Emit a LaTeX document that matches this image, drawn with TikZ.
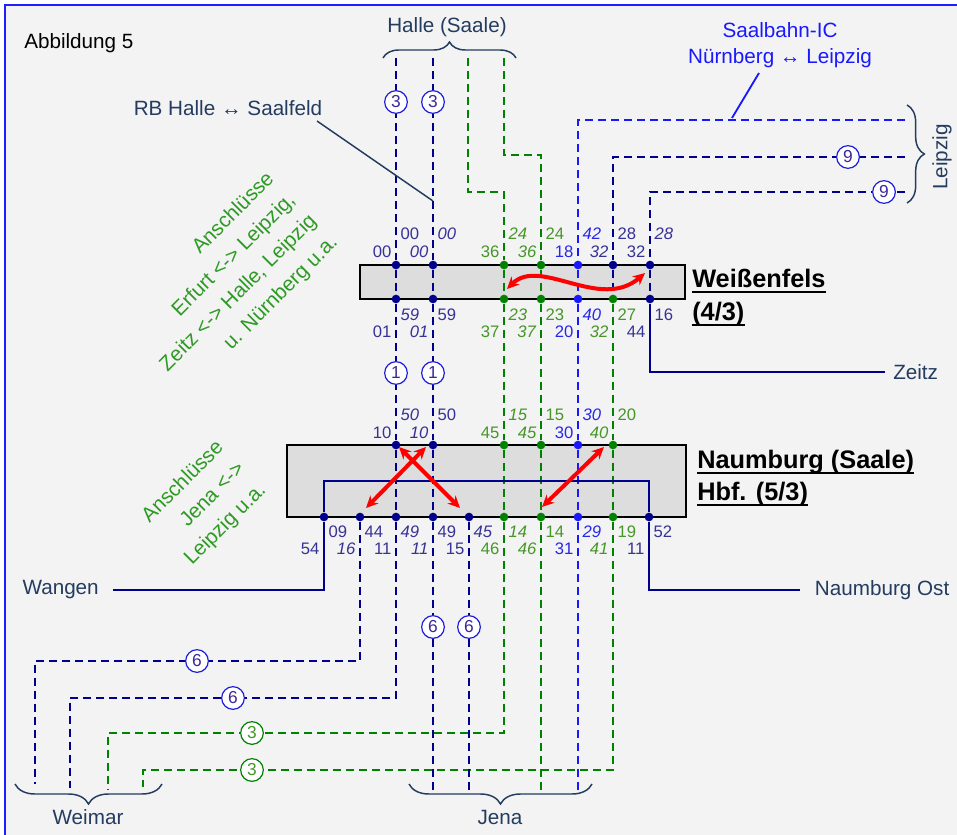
\documentclass[tikz,border=0pt]{standalone}
\usepackage{fontspec}
\setmainfont{Liberation Sans}
\usetikzlibrary{arrows.meta,positioning,calc,decorations.pathreplacing}

\definecolor{lNavy}{RGB}{0,0,140}
\definecolor{lBlue}{RGB}{25,25,255}
\definecolor{lGreen}{RGB}{0,130,0}
\definecolor{tNavy}{RGB}{55,50,150}
\definecolor{tBlue}{RGB}{40,40,235}
\definecolor{tGreen}{RGB}{70,150,40}
\definecolor{anschlussgruen}{RGB}{45,155,35}
\definecolor{ortgrau}{RGB}{35,60,95}
\definecolor{hintergrund}{RGB}{243,243,243}
\definecolor{kastengrau}{RGB}{221,221,221}
\definecolor{rahmen}{RGB}{30,30,255}
\definecolor{ringblau}{RGB}{30,30,220}
\definecolor{ringtext}{RGB}{60,40,150}

\begin{document}
\begin{tikzpicture}[x=0.75pt, y=-0.75pt,
    zug/.style={dash pattern=on 6pt off 3.75pt, line width=1.8pt},
    nzug/.style={zug, lNavy},
    bzug/.style={zug, lBlue},
    gzug/.style={zug, lGreen},
    fest/.style={line width=1.8pt, lNavy},
    dot/.style={circle, fill=#1, inner sep=0pt, minimum size=6.5pt},
    zeit/.style={inner sep=1pt, font=\fontsize{12.5}{13}\selectfont},
    ring/.style={circle, draw=ringblau, fill=white, line width=0.9pt, minimum size=17pt, inner sep=0pt, text=ringtext, font=\fontsize{13}{13}\selectfont},
    gring/.style={ring, draw=lGreen, text=tGreen},
    ort/.style={text=ortgrau, font=\fontsize{15.5}{18}\selectfont},
    bahnhof/.style={inner sep=0pt, font=\bfseries\fontsize{19}{20}\selectfont},
    bhfkasten/.style={draw=black, line width=1.5pt, fill=kastengrau},
    rot/.style={{Stealth[length=9pt,width=8.5pt]}-{Stealth[length=9pt,width=8.5pt]}, red, line width=3pt},
    klammer/.style={decorate, decoration={brace, amplitude=#1}, ortgrau, line width=1.1pt},
    anschluss/.style={rotate=45, align=right, inner sep=0pt, text=anschlussgruen, font=\fontsize{15.5}{22.5}\selectfont},
    hinweis/.style={ortgrau, line width=1.1pt},
]
\useasboundingbox (0,0) rectangle (957,835);
\fill[white] (0,0) rectangle (957,835);
\fill[hintergrund] (5,5) rectangle (957,835);
\draw[rahmen, line width=1.6pt] (5,835) -- (5,5) -- (957,5);

% Bahnhofskaesten
\draw[bhfkasten] (360,265) rectangle (685,299);
\draw[bhfkasten] (287,445) rectangle (686,517);

% Weissenfels oben / unten
\foreach \x/\farbe/\re/\li in {396/Navy/00/00, 433/Navy/\textit{00}/\textit{00}, 504/Green/\textit{24}/36, 541/Green/24/\textit{36}, 578/Blue/\textit{42}/18, 613/Navy/28/\textit{32}, 650/Navy/\textit{28}/32}{
  \node[dot=l\farbe] (wt-\x) at (\x,265) {};
  \node[zeit, text=t\farbe, anchor=west] (wt-\x-r) at (\x+3,234) {\re};
  \node[zeit, text=t\farbe, anchor=east] (wt-\x-l) at (\x-3,252) {\li};
}
\foreach \x/\farbe/\re/\li in {396/Navy/\textit{59}/01, 433/Navy/59/\textit{01}, 504/Green/\textit{23}/37, 541/Green/23/\textit{37}, 578/Blue/\textit{40}/20, 613/Green/27/\textit{32}, 650/Navy/16/44}{
  \node[dot=l\farbe] (wb-\x) at (\x,299) {};
  \node[zeit, text=t\farbe, anchor=west] (wb-\x-r) at (\x+3,315) {\re};
  \node[zeit, text=t\farbe, anchor=east] (wb-\x-l) at (\x-3,332) {\li};
}
% Naumburg oben / unten
\foreach \x/\farbe/\re/\li in {396/Navy/\textit{50}/10, 433/Navy/50/\textit{10}, 504/Green/\textit{15}/45, 541/Green/15/\textit{45}, 578/Blue/\textit{30}/30, 613/Green/20/\textit{40}}{
  \node[dot=l\farbe] (nt-\x) at (\x,445) {};
  \node[zeit, text=t\farbe, anchor=west] (nt-\x-r) at (\x+3,415) {\re};
  \node[zeit, text=t\farbe, anchor=east] (nt-\x-l) at (\x-3,433) {\li};
}
\foreach \x/\farbe/\re/\li in {324/Navy/09/54, 360/Navy/44/\textit{16}, 396/Navy/\textit{49}/11, 433/Navy/49/\textit{11}, 469/Navy/\textit{45}/15, 504/Green/\textit{14}/46, 541/Green/14/\textit{46}, 578/Blue/\textit{29}/31, 613/Green/19/\textit{41}, 649/Navy/52/11}{
  \node[dot=l\farbe] (nb-\x) at (\x,517) {};
  \node[zeit, text=t\farbe, anchor=west] (nb-\x-r) at (\x+3,532) {\re};
  \node[zeit, text=t\farbe, anchor=east] (nb-\x-l) at (\x-3,549) {\li};
}

% Orte
\node[anchor=west, inner sep=0pt, font=\fontsize{15.5}{18}\selectfont] (abb) at (24,43) {Abbildung 5};
\node[ort] (halle) at (447,27) {Halle (Saale)};
\node[ort] (rb) at (228,108) {RB Halle ↔ Saalfeld};
\node[ort, text=lBlue, align=center, font=\fontsize{15.5}{19}\selectfont] (ic) at (780,45) {Saalbahn-IC\\Nürnberg ↔ Leipzig};
\node[ort, rotate=90] (leipzig) at (942,157) {Leipzig};
\node[ort, anchor=west, inner xsep=6pt] (zeitz) at (885,372) {Zeitz};
\node[ort, anchor=east, inner xsep=10.5pt] (wangen) at (113,590) {Wangen};
\node[ort, anchor=west, inner xsep=11pt] (nost) at (800,590) {Naumburg Ost};
\node[ort] (weimar) at (88,817) {Weimar};
\node[ort] (jena) at (500,817) {Jena};

% Knickpunkte
\coordinate (haA) at (396,58);
\coordinate (haB) at (433,58);
\coordinate (haC) at (468,58);
\coordinate (haC1) at (468,192);
\coordinate (haC2) at (504,192);
\coordinate (haD) at (504,58);
\coordinate (haD1) at (504,155);
\coordinate (haD2) at (541,155);
\coordinate (leE) at (905,120);
\coordinate (leE1) at (578,120);
\coordinate (leF) at (905,157);
\coordinate (leF1) at (613,157);
\coordinate (leG) at (905,192);
\coordinate (leG1) at (650,192);
\coordinate (ze1) at (650,372);
\coordinate (wa1) at (324,590);
\coordinate (wa2) at (324,481);
\coordinate (no1) at (649,481);
\coordinate (no2) at (649,590);
\coordinate (we1) at (360,661);
\coordinate (we2) at (35,661);
\coordinate (we3) at (35,784);
\coordinate (we4) at (396,698);
\coordinate (we5) at (70,698);
\coordinate (we6) at (70,788);
\coordinate (we7) at (504,733);
\coordinate (we8) at (108,733);
\coordinate (we9) at (108,790);
\coordinate (we10) at (613,770);
\coordinate (we11) at (143,770);
\coordinate (we12) at (143,787);
\coordinate (je1) at (433,790);
\coordinate (je2) at (469,790);
\coordinate (je3) at (541,790);
\coordinate (je4) at (578,790);

% Zuglaeufe
\draw[nzug] (haA) -- (wt-396) -- (wb-396) -- (nt-396) -- (nb-396) -- (we4) -- (we5) -- (we6);
\draw[nzug] (haB) -- (wt-433) -- (wb-433) -- (nt-433) -- (nb-433) -- (je1);
\draw[gzug] (haC) -- (haC1) -- (haC2) -- (wt-504) -- (wb-504) -- (nt-504) -- (nb-504) -- (we7) -- (we8) -- (we9);
\draw[gzug] (haD) -- (haD1) -- (haD2) -- (wt-541) -- (wb-541) -- (nt-541) -- (nb-541) -- (je3);
\draw[bzug] (leE) -- (leE1) -- (wt-578) -- (wb-578) -- (nt-578) -- (nb-578) -- (je4);
\draw[nzug] (leF) -- (leF1) -- (wt-613) -- (wb-613);
\draw[gzug] (wb-613) -- (nt-613) -- (nb-613) -- (we10) -- (we11) -- (we12);
\draw[nzug] (leG) -- (leG1) -- (wt-650) -- (wb-650);
\draw[fest] (wb-650) -- (ze1) -- (zeitz);
\draw[fest] (wangen) -- (wa1) -- (nb-324) -- (wa2) -- (no1) -- (nb-649) -- (no2) -- (nost);
\draw[nzug] (nb-360) -- (we1) -- (we2) -- (we3);
\draw[nzug] (nb-469) -- (je2);

% Anschluesse
\coordinate (wf-p1) at (507,289);
\coordinate (wf-p2) at (645,273);
\draw[rot] (wf-p1) .. controls (540,256) and (600,312) .. (wf-p2);
\coordinate (nr1) at (366,508);
\coordinate (nr2) at (426,447);
\coordinate (nr3) at (399,447);
\coordinate (nr4) at (460,508);
\coordinate (nr5) at (542,507);
\coordinate (nr6) at (604,447);
\draw[rot] (nr1) -- (nr2);
\draw[rot] (nr3) -- (nr4);
\draw[rot] (nr5) -- (nr6);

% Linienringe
\node[ring] (r3a) at (396,102) {3};
\node[ring] (r3b) at (433,102) {3};
\node[ring] (r1a) at (396,373) {1};
\node[ring] (r1b) at (433,373) {1};
\node[ring] (r6a) at (433,627) {6};
\node[ring] (r6b) at (469,627) {6};
\node[ring] (r6c) at (197,661) {6};
\node[ring] (r6d) at (233,698) {6};
\node[gring] (r3c) at (252,733) {3};
\node[gring] (r3d) at (252,770) {3};
\node[ring] (r9a) at (848,157) {9};
\node[ring] (r9b) at (884,192) {9};

% Klammern
\draw[klammer=12pt] (383,58) -- (516,58);
\draw[klammer=13pt] (907,105) -- (907,203);
\draw[klammer=15pt] (162,784) -- (15,784);
\draw[klammer=15pt] (592,784) -- (409,784);

% Hinweislinien
\coordinate (rb1) at (317,121);
\coordinate (rb2) at (433,201);
\draw[hinweis] (rb1) -- (rb2);
\coordinate (ic1) at (759,73);
\coordinate (ic2) at (732,118);
\draw[lBlue, line width=1.4pt] (ic1) -- (ic2);

% gruene Texte
\node[anschluss, anchor=east] (ans1) at (303,208) {Anschlüsse\\Erfurt <-> Leipzig,\\Zeitz <-> Halle, Leipzig\\u. Nürnberg u.a.};
\node[anschluss, anchor=east] (ans2) at (242,466) {Anschlüsse\\Jena <->\\Leipzig u.a.};

% Bahnhofsnamen
\node[bahnhof, anchor=base west] (weissenfels) at (692,287) {Weißenfels~};
\node[bahnhof, anchor=base west] (weissenfels-z) at (692,320) {(4/3)};
\node[bahnhof, anchor=base west] (naumburg) at (697,468) {Naumburg (Saale)~};
\node[bahnhof, anchor=base west] (naumburg-z) at (697,500) {Hbf. (5/3)};
\foreach \n in {weissenfels, weissenfels-z, naumburg, naumburg-z}
  \draw[line width=1.6pt] ([yshift=-4pt]\n.base west) -- ([yshift=-4pt]\n.base east);
\end{tikzpicture}
\end{document}
